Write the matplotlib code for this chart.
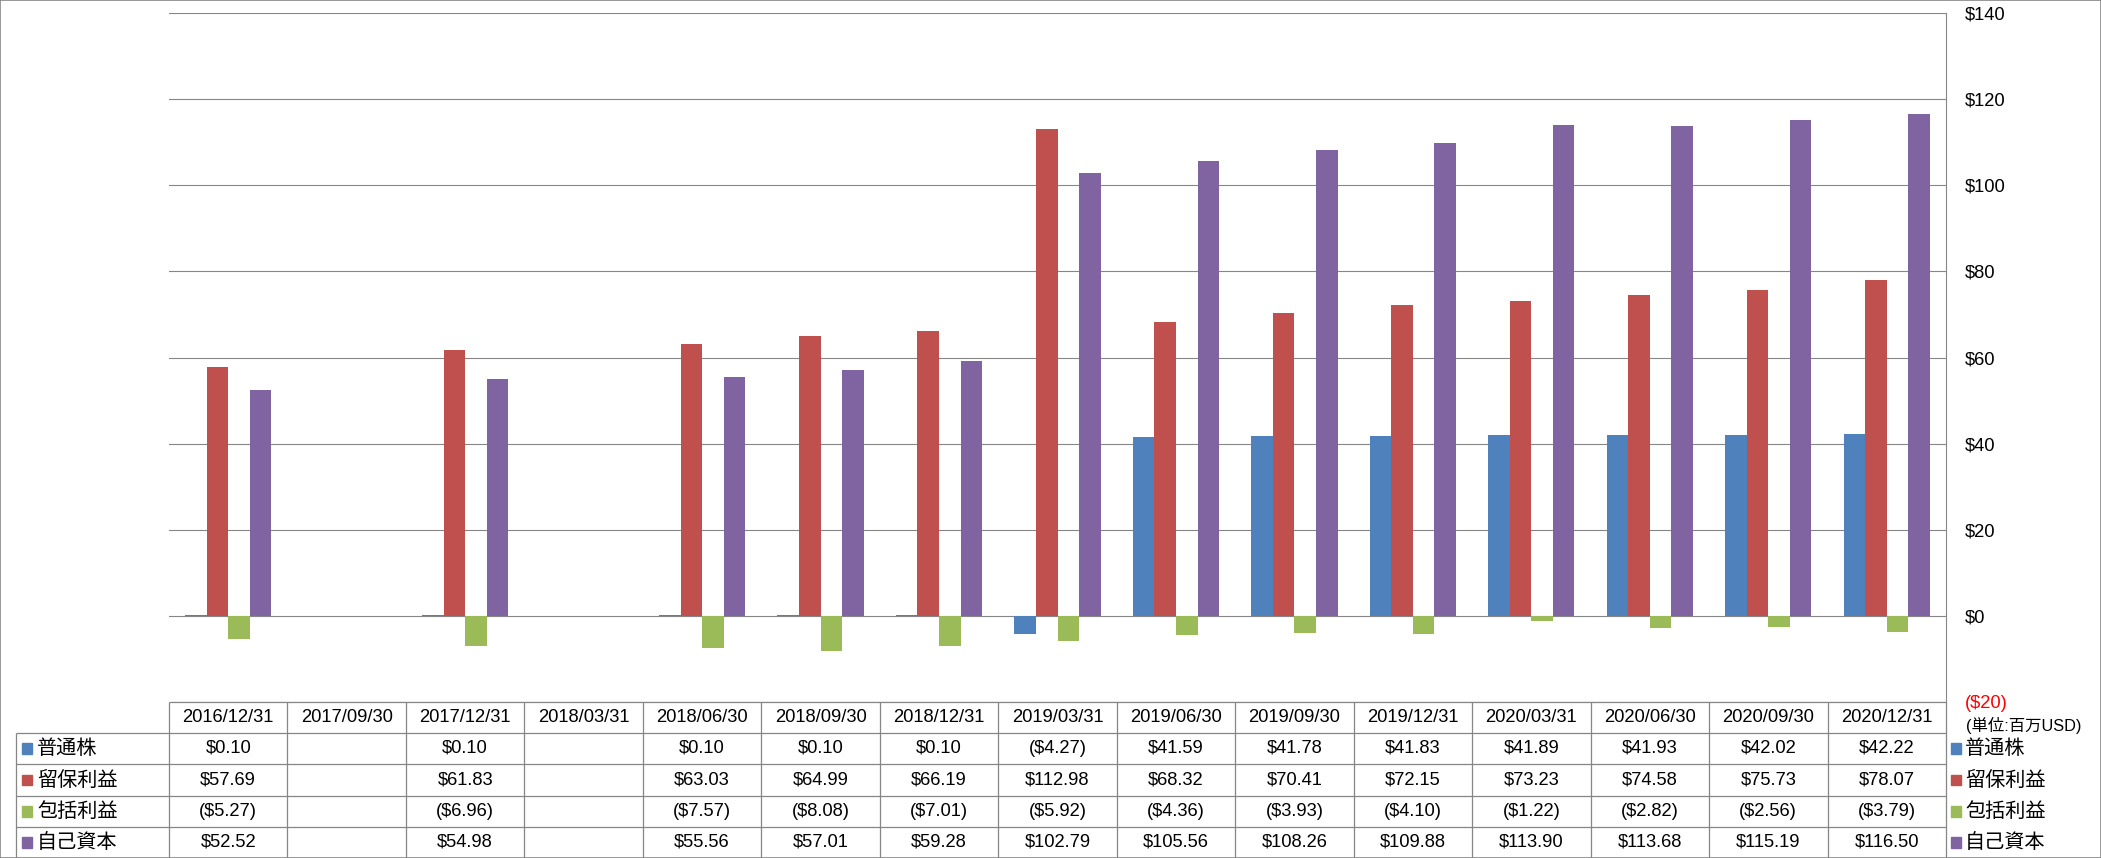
import numpy as np
import matplotlib.pyplot as plt
from matplotlib.patches import Rectangle

plt.rcParams["font.family"] = ["Liberation Sans", "Noto Sans CJK JP"]

dates = ["2016/12/31", "2017/09/30", "2017/12/31", "2018/03/31", "2018/06/30",
         "2018/09/30", "2018/12/31", "2019/03/31", "2019/06/30", "2019/09/30",
         "2019/12/31", "2020/03/31", "2020/06/30", "2020/09/30", "2020/12/31"]
nan = np.nan
common_stock = [0.10, nan, 0.10, nan, 0.10, 0.10, 0.10, -4.27, 41.59, 41.78,
                41.83, 41.89, 41.93, 42.02, 42.22]
retained = [57.69, nan, 61.83, nan, 63.03, 64.99, 66.19, 112.98, 68.32, 70.41,
            72.15, 73.23, 74.58, 75.73, 78.07]
aoci = [-5.27, nan, -6.96, nan, -7.57, -8.08, -7.01, -5.92, -4.36, -3.93,
        -4.10, -1.22, -2.82, -2.56, -3.79]
equity = [52.52, nan, 54.98, nan, 55.56, 57.01, 59.28, 102.79, 105.56, 108.26,
          109.88, 113.90, 113.68, 115.19, 116.50]

series_names = ["普通株", "留保利益", "包括利益", "自己資本"]
series_vals = [common_stock, retained, aoci, equity]
colors = ["#4F81BD", "#C0504D", "#9BBB59", "#8064A2"]
yticks = list(range(-20, 141, 20))

GRID = "#868686"
W, H = 2101, 858
FS = 13.2
FS_CJK = 14.5

# pixel layout
x_left, x_right = 169, 1946
y_top, y_zero_axis = 13, 702
lab_left = 16
row_edges = [702, 733, 764, 796, 827, 858]

fig = plt.figure(figsize=(W / 100, H / 100), dpi=100)
fig.patches.append(Rectangle((0, 0), 1, 1, transform=fig.transFigure,
                             fill=False, edgecolor=GRID, lw=1.2))

ax = fig.add_axes([x_left / W, 1 - y_zero_axis / H,
                   (x_right - x_left) / W, (y_zero_axis - y_top) / H])
n = len(dates)
x = np.arange(n)
bw = 1 / 5.5
for k, (vals, c) in enumerate(zip(series_vals, colors)):
    ax.bar(x + (k - 1.5) * bw, vals, width=bw, color=c, zorder=3, linewidth=0)

ax.set_xlim(-0.5, n - 0.5)
ax.set_ylim(-20, 140)
ax.yaxis.tick_right()
ax.set_yticks(yticks)
ax.set_yticklabels([f"${v}" if v >= 0 else f"(${-v})" for v in yticks], fontsize=FS)
ax.tick_params(axis="y", length=0, pad=13.5)
ax.yaxis.get_major_ticks()[0].label2.set_color("red")
ax.set_xticks([])
for v in yticks:
    ax.axhline(v, color=GRID, lw=0.8, zorder=1)
for s in ["left", "bottom", "top"]:
    ax.spines[s].set_visible(False)
ax.spines["right"].set_color(GRID)
ax.spines["right"].set_linewidth(0.8)

ax.text(1.0 + 20 / (x_right - x_left), -20 - 23 * 160 / (y_zero_axis - y_top),
        "(単位:百万USD)", transform=ax.get_yaxis_transform(), fontsize=11.8,
        ha="left", va="center", clip_on=False)

# data table below the plot
unit = (x_right - x_left) / n
tab = fig.add_axes([lab_left / W, 0, (x_right - lab_left) / W, (H - row_edges[0]) / H])
x0 = -0.5 - (x_left - lab_left) / unit
tab.set_xlim(x0, n - 0.5)
tab.set_ylim(5, 0)
tab.axis("off")

ys = [(row_edges[i] - row_edges[0]) / (row_edges[-1] - row_edges[0]) * 5 for i in range(6)]
lk = dict(color=GRID, lw=0.9, clip_on=False)
tab.hlines(ys[0], -0.5, n - 0.5, **lk)
for yv in ys[1:5]:
    tab.hlines(yv, x0, n - 0.5, **lk)
tab.vlines(x0, ys[1], ys[5], **lk)
for i in range(n):
    tab.vlines(i - 0.5, ys[0], ys[5], **lk)
tab.vlines(n - 0.5, ys[0], ys[5], **lk)

for i, d in enumerate(dates):
    tab.text(i, (ys[0] + ys[1]) / 2, d, ha="center", va="center", fontsize=FS)


def fmt(v):
    if np.isnan(v):
        return ""
    return f"${v:.2f}" if v >= 0 else f"(${-v:.2f})"


sq = 10 / unit
for r, (name, vals, c) in enumerate(zip(series_names, series_vals, colors)):
    yc = (ys[r + 1] + ys[r + 2]) / 2
    for i, v in enumerate(vals):
        tab.text(i, yc, fmt(v), ha="center", va="center", fontsize=FS)
    # row header with key
    tab.add_patch(Rectangle((x0 + 6 / unit, yc - 0.17), sq, 0.34, color=c, clip_on=False))
    tab.text(x0 + 21 / unit, yc, name, ha="left", va="center", fontsize=FS_CJK)
    # legend on the right
    tab.add_patch(Rectangle((n - 0.5 + 5 / unit, yc - 0.17), sq, 0.34, color=c, clip_on=False))
    tab.text(n - 0.5 + 19 / unit, yc, name, ha="left", va="center", fontsize=FS_CJK,
             clip_on=False)

fig.savefig("out.png", dpi=100, facecolor="white")
